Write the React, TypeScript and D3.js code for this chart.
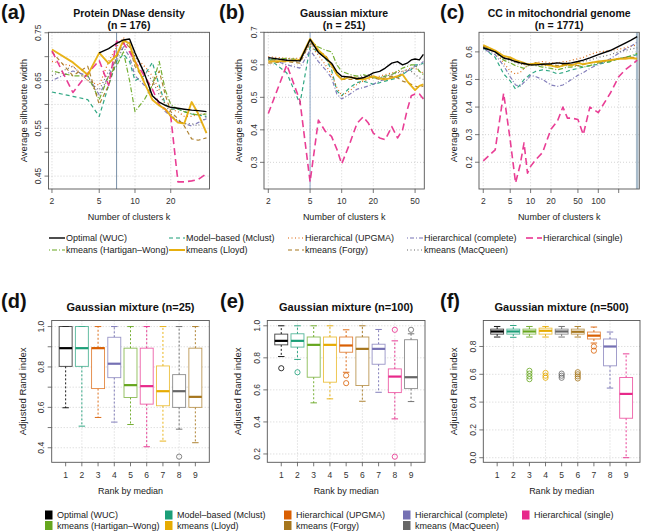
import React from 'react';
import * as d3 from 'd3';

// ---------------- data ----------------
const methodKeys = ['optimal', 'mclust', 'upgma', 'complete', 'single', 'hw', 'lloyd', 'forgy', 'macqueen'];
const methodNames = ['Optimal (WUC)', 'Model–based (Mclust)', 'Hierarchical (UPGMA)', 'Hierarchical (complete)', 'Hierarchical (single)', 'kmeans (Hartigan–Wong)', 'kmeans (Lloyd)', 'kmeans (Forgy)', 'kmeans (MacQueen)'];
const methodColors = ['#000000', '#1b9e77', '#d95f02', '#7570b3', '#e7298a', '#66a61e', '#e6ab02', '#a6761d', '#666666'];

// Panel (a) Protein DNase density
const kA = [2, 3, 4, 5, 6, 7, 8, 9, 10, 12, 14, 16, 18, 20, 23, 26, 30, 34, 40];
const aOptimal = [null, null, null, 0.708, 0.717, 0.728, 0.735, 0.737, 0.708, 0.665, 0.618, 0.605, 0.598, 0.594, 0.592, 0.590, 0.588, 0.587, 0.585];
const aMclust = [0.626, 0.617, 0.610, 0.575, 0.640, 0.690, 0.705, 0.690, 0.650, 0.660, 0.688, 0.640, 0.600, 0.590, 0.590, 0.585, 0.580, 0.578, 0.575];
const aUpgma = [0.690, 0.680, 0.650, 0.640, 0.690, 0.720, 0.740, 0.720, 0.700, 0.680, 0.660, 0.630, 0.600, 0.590, 0.585, 0.575, 0.575, 0.580, 0.580];
const aComplete = [0.650, 0.670, 0.660, 0.620, 0.660, 0.700, 0.720, 0.700, 0.660, 0.640, 0.620, 0.600, 0.585, 0.575, 0.565, 0.560, 0.555, 0.562, 0.570];
const aSingle = [0.712, 0.625, 0.665, 0.692, 0.640, 0.732, 0.728, 0.710, 0.690, 0.660, 0.632, 0.600, 0.590, 0.575, 0.438, 0.438, 0.440, 0.443, 0.455];
const aHw = [0.670, 0.660, 0.660, 0.610, 0.660, 0.680, 0.710, 0.650, 0.585, 0.610, 0.640, 0.690, 0.630, 0.600, 0.590, 0.585, 0.580, 0.578, 0.580];
const aLloyd = [0.715, 0.688, 0.662, 0.708, 0.686, 0.703, 0.734, 0.728, 0.690, 0.645, 0.610, 0.598, 0.590, 0.576, 0.562, 0.560, 0.605, 0.581, 0.540];
const aForgy = [0.710, 0.660, 0.680, 0.600, 0.640, 0.700, 0.730, 0.720, 0.680, 0.650, 0.640, 0.670, 0.620, 0.585, 0.570, 0.555, 0.528, 0.525, 0.530];
const aMacqueen = [0.660, 0.680, 0.650, 0.630, 0.670, 0.690, 0.720, 0.730, 0.700, 0.670, 0.650, 0.620, 0.600, 0.580, 0.565, 0.560, 0.560, 0.555, 0.575];

// Panel (b) Gaussian mixture
const kB = [2, 3, 4, 5, 6, 7, 8, 9, 10, 12, 14, 16, 18, 20, 23, 26, 30, 34, 38, 42, 46, 50, 55, 60];
const bOptimal = [0.622, 0.614, 0.612, 0.678, 0.638, 0.620, 0.605, 0.578, 0.565, 0.562, 0.557, 0.560, 0.567, 0.575, 0.580, 0.590, 0.605, 0.610, 0.600, 0.605, 0.615, 0.618, 0.615, 0.632];
const bMclust = [0.620, 0.575, 0.480, 0.655, 0.640, 0.620, 0.585, 0.520, 0.505, 0.530, 0.545, 0.550, 0.545, 0.540, 0.545, 0.550, 0.555, 0.560, 0.570, 0.580, 0.585, 0.600, 0.600, 0.605];
const bUpgma = [0.625, 0.620, 0.620, 0.660, 0.630, 0.600, 0.570, 0.530, 0.505, 0.520, 0.540, 0.550, 0.555, 0.560, 0.565, 0.570, 0.575, 0.580, 0.580, 0.585, 0.590, 0.590, 0.580, 0.575];
const bComplete = [0.620, 0.600, 0.590, 0.645, 0.610, 0.585, 0.560, 0.510, 0.495, 0.510, 0.525, 0.530, 0.535, 0.540, 0.550, 0.555, 0.560, 0.565, 0.575, 0.580, 0.590, 0.595, 0.600, 0.610];
const bSingle = [0.450, 0.600, 0.490, 0.240, 0.430, 0.395, 0.380, 0.340, 0.295, 0.360, 0.420, 0.440, 0.420, 0.390, 0.375, 0.370, 0.410, 0.375, 0.400, 0.460, 0.505, 0.510, 0.510, 0.495];
const bHw = [0.615, 0.620, 0.615, 0.675, 0.655, 0.645, 0.640, 0.600, 0.580, 0.570, 0.565, 0.570, 0.565, 0.560, 0.560, 0.565, 0.570, 0.580, 0.590, 0.595, 0.600, 0.600, 0.580, 0.570];
const bLloyd = [0.610, 0.612, 0.615, 0.680, 0.645, 0.625, 0.600, 0.570, 0.555, 0.562, 0.558, 0.555, 0.560, 0.565, 0.558, 0.555, 0.560, 0.565, 0.570, 0.550, 0.535, 0.522, 0.535, 0.540];
const bForgy = [0.605, 0.610, 0.605, 0.670, 0.640, 0.630, 0.600, 0.570, 0.555, 0.555, 0.555, 0.560, 0.565, 0.560, 0.555, 0.560, 0.565, 0.560, 0.550, 0.545, 0.540, 0.535, 0.530, 0.535];
const bMacqueen = [0.615, 0.615, 0.610, 0.665, 0.640, 0.620, 0.595, 0.570, 0.560, 0.565, 0.560, 0.565, 0.570, 0.565, 0.560, 0.565, 0.570, 0.575, 0.580, 0.585, 0.580, 0.570, 0.560, 0.555];

// Panel (c) CC in mitochondrial genome
const kC = [2, 3, 4, 5, 6, 7, 8, 9, 10, 12, 15, 20, 25, 30, 35, 40, 50, 60, 75, 100, 150, 200, 250, 300, 375];
const cOptimal = [0.615, 0.600, 0.578, 0.572, 0.565, 0.560, 0.558, 0.555, 0.553, 0.553, 0.555, 0.557, 0.560, 0.558, 0.558, 0.560, 0.565, 0.570, 0.578, 0.590, 0.605, 0.620, 0.632, 0.642, 0.655];
const cMclust = [0.615, 0.580, 0.520, 0.495, 0.465, 0.480, 0.500, 0.510, 0.520, 0.530, 0.535, 0.530, 0.520, 0.525, 0.530, 0.535, 0.540, 0.545, 0.550, 0.555, 0.565, 0.575, 0.580, 0.585, 0.590];
const cUpgma = [0.620, 0.600, 0.560, 0.530, 0.520, 0.525, 0.540, 0.550, 0.555, 0.560, 0.565, 0.560, 0.560, 0.565, 0.565, 0.570, 0.575, 0.580, 0.590, 0.600, 0.605, 0.610, 0.615, 0.620, 0.625];
const cComplete = [0.610, 0.590, 0.550, 0.510, 0.480, 0.475, 0.490, 0.500, 0.515, 0.510, 0.500, 0.480, 0.475, 0.480, 0.490, 0.500, 0.515, 0.525, 0.540, 0.555, 0.575, 0.595, 0.610, 0.620, 0.635];
const cSingle = [0.205, 0.245, 0.450, 0.280, 0.125, 0.190, 0.270, 0.160, 0.185, 0.210, 0.235, 0.320, 0.350, 0.400, 0.360, 0.360, 0.355, 0.300, 0.400, 0.380, 0.450, 0.510, 0.535, 0.550, 0.570];
const cHw = [0.620, 0.600, 0.570, 0.560, 0.550, 0.545, 0.540, 0.550, 0.555, 0.550, 0.545, 0.540, 0.535, 0.540, 0.545, 0.545, 0.550, 0.545, 0.550, 0.560, 0.565, 0.575, 0.580, 0.585, 0.595];
const cLloyd = [0.625, 0.605, 0.585, 0.580, 0.570, 0.565, 0.560, 0.555, 0.555, 0.558, 0.555, 0.550, 0.545, 0.550, 0.555, 0.550, 0.560, 0.555, 0.560, 0.565, 0.570, 0.575, 0.575, 0.578, 0.575];
const cForgy = [0.620, 0.605, 0.580, 0.575, 0.565, 0.560, 0.555, 0.550, 0.555, 0.560, 0.555, 0.555, 0.550, 0.555, 0.550, 0.555, 0.550, 0.555, 0.560, 0.565, 0.570, 0.575, 0.580, 0.580, 0.580];
const cMacqueen = [0.615, 0.600, 0.575, 0.570, 0.560, 0.555, 0.555, 0.550, 0.550, 0.555, 0.550, 0.550, 0.545, 0.550, 0.550, 0.555, 0.560, 0.565, 0.570, 0.580, 0.590, 0.600, 0.605, 0.610, 0.615];

// Boxplots: rank -> method index, and five-number summaries
const rankPos = [1, 2, 3, 4, 5, 6, 7, 8, 9];

const dMethods = [0, 1, 2, 3, 5, 4, 6, 8, 7];
const dLow = [0.598, 0.507, 0.550, 0.527, 0.515, 0.405, 0.433, 0.492, 0.425];
const dQ1 = [0.803, 0.803, 0.693, 0.747, 0.649, 0.616, 0.608, 0.600, 0.600];
const dMed = [0.893, 0.893, 0.893, 0.816, 0.710, 0.705, 0.680, 0.680, 0.652];
const dQ3 = [1.000, 1.000, 0.895, 0.947, 0.893, 0.893, 0.805, 0.762, 0.893];
const dHigh = [1, 1, 1, 1, 1, 1, 1, 1, 1];
const dOut = [[], [], [], [], [], [], [], [0.356], []];

const eMethods = [0, 1, 5, 6, 2, 7, 3, 4, 8];
const eLow = [0.808, 0.790, 0.519, 0.544, 0.710, 0.529, 0.585, 0.419, 0.527];
const eQ1 = [0.881, 0.867, 0.679, 0.648, 0.835, 0.627, 0.760, 0.583, 0.608];
const eMed = [0.906, 0.906, 0.881, 0.881, 0.877, 0.856, 0.856, 0.683, 0.679];
const eQ3 = [0.948, 0.950, 0.930, 0.930, 0.930, 0.930, 0.885, 0.731, 0.913];
const eHigh = [1, 1, 1, 1, 0.975, 1, 0.977, 0.906, 0.950];
const eOut = [[0.735], [0.710], [], [], [0.690, 0.642], [], [], [0.975, 0.183], [0.975]];

const fMethods = [0, 1, 5, 6, 8, 7, 2, 3, 4];
const fLow = [0.868, 0.866, 0.868, 0.868, 0.868, 0.868, 0.825, 0.501, 0.000];
const fQ1 = [0.889, 0.889, 0.889, 0.889, 0.889, 0.889, 0.854, 0.661, 0.284];
const fMed = [0.908, 0.908, 0.908, 0.913, 0.908, 0.906, 0.878, 0.800, 0.459];
const fQ3 = [0.925, 0.925, 0.925, 0.932, 0.925, 0.925, 0.904, 0.854, 0.577];
const fHigh = [0.944, 0.951, 0.944, 0.944, 0.944, 0.944, 0.940, 0.904, 0.747];
const fOut = [[], [], [0.625, 0.605, 0.585, 0.565], [0.610, 0.590, 0.575], [0.605, 0.590, 0.575], [0.615, 0.600, 0.585, 0.570], [0.800, 0.770], [], []];

// ---------------- styles ----------------
const FONT = "'Liberation Sans', Arial, Helvetica, sans-serif";
const lineStyle: Record<string, { dash: string | null; width: number }> = {
  optimal: { dash: null, width: 1.4 },
  mclust: { dash: '4,3', width: 1.2 },
  upgma: { dash: '1,2.5', width: 1.2 },
  complete: { dash: '1,2,4,2', width: 1.2 },
  single: { dash: '7,4', width: 1.6 },
  hw: { dash: '1,2,5,2', width: 1.2 },
  lloyd: { dash: null, width: 1.9 },
  forgy: { dash: '4,3', width: 1.2 },
  macqueen: { dash: '1,2.5', width: 1.2 },
};
const drawOrder = ['mclust', 'upgma', 'complete', 'hw', 'forgy', 'macqueen', 'single', 'lloyd', 'optimal'];
const GRID = '#c8c8c8';
const AXIS = '#555';

type LineSeries = Record<string, (number | null)[]>;

function Letter({ x, y, t }: { x: number; y: number; t: string }) {
  return (
    <text x={x} y={y} fontSize={20} fontWeight="bold" fontFamily={FONT} fill="#111">
      {t}
    </text>
  );
}

function LinePanel(p: {
  x0: number; x1: number; y0: number; y1: number;
  xDom: [number, number]; yDom: [number, number];
  ks: number[]; series: LineSeries;
  xTicks: number[]; xLabeled: number[];
  yTicks: number[]; yLabeled: number[]; yFmt: (v: number) => string;
  vk: number; vColor: string; vWidth: number;
  letter: string; letterX: number; title: string; sub: string;
}) {
  const x = d3.scaleLog().domain(p.xDom).range([p.x0, p.x1]);
  const y = d3.scaleLinear().domain(p.yDom).range([p.y1, p.y0]);
  const cx = (p.x0 + p.x1) / 2;
  const cy = (p.y0 + p.y1) / 2;
  const line = d3
    .line<[number, number | null]>()
    .defined((d) => d[1] != null)
    .x((d) => x(d[0]))
    .y((d) => y(d[1] as number));
  const clipId = 'clip' + p.letter.replace(/[()]/g, '');
  return (
    <g fontFamily={FONT}>
      <defs>
        <clipPath id={clipId}>
          <rect x={p.x0} y={p.y0} width={p.x1 - p.x0} height={p.y1 - p.y0} />
        </clipPath>
      </defs>
      {p.yTicks.map((t) => (
        <line key={'gy' + t} x1={p.x0} x2={p.x1} y1={y(t)} y2={y(t)} stroke={GRID} strokeDasharray="1,2" strokeWidth={0.8} />
      ))}
      {p.xTicks.map((t) => (
        <line key={'gx' + t} x1={x(t)} x2={x(t)} y1={p.y0} y2={p.y1} stroke={GRID} strokeDasharray="1,2" strokeWidth={0.8} />
      ))}
      <line x1={x(p.vk)} x2={x(p.vk)} y1={p.y0} y2={p.y1} stroke={p.vColor} strokeWidth={p.vWidth} />
      <g clipPath={`url(#${clipId})`}>
        {drawOrder.map((key) => {
          const idx = methodKeys.indexOf(key);
          const vals = p.series[key];
          const pts = p.ks.map((k, i) => [k, vals[i]] as [number, number | null]);
          const st = lineStyle[key];
          return (
            <path
              key={key}
              d={line(pts) || ''}
              fill="none"
              stroke={methodColors[idx]}
              strokeWidth={st.width}
              strokeDasharray={st.dash || undefined}
              strokeLinejoin="round"
              opacity={key === 'optimal' ? 1 : 0.9}
            />
          );
        })}
      </g>
      <rect x={p.x0} y={p.y0} width={p.x1 - p.x0} height={p.y1 - p.y0} fill="none" stroke={AXIS} strokeWidth={0.9} />
      {p.yTicks.map((t) => (
        <line key={'ty' + t} x1={p.x0 - 4} x2={p.x0} y1={y(t)} y2={y(t)} stroke={AXIS} strokeWidth={0.8} />
      ))}
      {p.yLabeled.map((t) => (
        <text key={'ly' + t} transform={`translate(${p.x0 - 7.5},${y(t)}) rotate(-90)`} textAnchor="middle" fontSize={8.5} fill="#333">
          {p.yFmt(t)}
        </text>
      ))}
      {p.xTicks.map((t) => (
        <line key={'tx' + t} x1={x(t)} x2={x(t)} y1={p.y1} y2={p.y1 + 4} stroke={AXIS} strokeWidth={0.8} />
      ))}
      {p.xLabeled.map((t) => (
        <text key={'lx' + t} x={x(t)} y={p.y1 + 15} textAnchor="middle" fontSize={8.5} fill="#333">
          {String(t)}
        </text>
      ))}
      <text x={cx} y={p.y1 + 31} textAnchor="middle" fontSize={9} fill="#222">Number of clusters k</text>
      <text transform={`translate(${p.x0 - 22},${cy}) rotate(-90)`} textAnchor="middle" fontSize={9.5} fill="#222">
        Average silhouette width
      </text>
      <text x={cx} y={16.5} textAnchor="middle" fontSize={10.5} fontWeight="bold" fill="#111">{p.title}</text>
      <text x={cx} y={28.5} textAnchor="middle" fontSize={10.5} fontWeight="bold" fill="#111">{p.sub}</text>
      <Letter x={p.letterX} y={19} t={p.letter} />
    </g>
  );
}

function BoxPanel(p: {
  x0: number; x1: number; y0: number; y1: number; yDom: [number, number];
  methods: number[]; low: number[]; q1: number[]; med: number[]; q3: number[]; high: number[]; out: number[][];
  yTicks: number[]; yLabeled: number[];
  letter: string; letterX: number; title: string;
}) {
  const x = d3.scaleLinear().domain([0.14, 9.86]).range([p.x0, p.x1]);
  const y = d3.scaleLinear().domain(p.yDom).range([p.y1, p.y0]);
  const bw = (x(1) - x(0)) * 0.8;
  const cw = bw / 2;
  const cx = (p.x0 + p.x1) / 2;
  const cy = (p.y0 + p.y1) / 2;
  const gridX = [2, 4, 6, 8];
  return (
    <g fontFamily={FONT}>
      {p.yTicks.map((t) => (
        <line key={'gy' + t} x1={p.x0} x2={p.x1} y1={y(t)} y2={y(t)} stroke={GRID} strokeDasharray="1,2" strokeWidth={0.8} />
      ))}
      {gridX.map((t) => (
        <line key={'gx' + t} x1={x(t)} x2={x(t)} y1={p.y0} y2={p.y1} stroke={GRID} strokeDasharray="1,2" strokeWidth={0.8} />
      ))}
      {rankPos.map((r, i) => {
        const col = methodColors[p.methods[i]];
        const xc = x(r);
        return (
          <g key={'b' + r}>
            <line x1={xc} x2={xc} y1={y(p.q3[i])} y2={y(p.high[i])} stroke={col} strokeDasharray="2,2" strokeWidth={0.9} />
            <line x1={xc} x2={xc} y1={y(p.q1[i])} y2={y(p.low[i])} stroke={col} strokeDasharray="2,2" strokeWidth={0.9} />
            <line x1={xc - cw / 2} x2={xc + cw / 2} y1={y(p.high[i])} y2={y(p.high[i])} stroke={col} strokeWidth={0.9} />
            <line x1={xc - cw / 2} x2={xc + cw / 2} y1={y(p.low[i])} y2={y(p.low[i])} stroke={col} strokeWidth={0.9} />
            <rect x={xc - bw / 2} y={y(p.q3[i])} width={bw} height={Math.max(0.5, y(p.q1[i]) - y(p.q3[i]))} fill="white" stroke={col} strokeOpacity={0.75} strokeWidth={0.9} />
            <line x1={xc - bw / 2} x2={xc + bw / 2} y1={y(p.med[i])} y2={y(p.med[i])} stroke={col} strokeWidth={2.2} />
            {p.out[i].map((o, j) => (
              <circle key={j} cx={xc} cy={y(o)} r={2.6} fill="none" stroke={col} strokeWidth={0.8} />
            ))}
          </g>
        );
      })}
      <rect x={p.x0} y={p.y0} width={p.x1 - p.x0} height={p.y1 - p.y0} fill="none" stroke={AXIS} strokeWidth={0.9} />
      {p.yTicks.map((t) => (
        <line key={'ty' + t} x1={p.x0 - 4} x2={p.x0} y1={y(t)} y2={y(t)} stroke={AXIS} strokeWidth={0.8} />
      ))}
      {p.yLabeled.map((t) => (
        <text key={'ly' + t} transform={`translate(${p.x0 - 7.5},${y(t)}) rotate(-90)`} textAnchor="middle" fontSize={8.5} fill="#333">
          {t.toFixed(1)}
        </text>
      ))}
      {rankPos.map((r) => (
        <g key={'xt' + r}>
          <line x1={x(r)} x2={x(r)} y1={p.y1} y2={p.y1 + 4} stroke={AXIS} strokeWidth={0.8} />
          <text x={x(r)} y={p.y1 + 15.5} textAnchor="middle" fontSize={8.5} fill="#333">{String(r)}</text>
        </g>
      ))}
      <text x={cx} y={p.y1 + 32} textAnchor="middle" fontSize={9} fill="#222">Rank by median</text>
      <text transform={`translate(${p.x0 - 26},${cy}) rotate(-90)`} textAnchor="middle" fontSize={9.5} fill="#222">
        Adjusted Rand index
      </text>
      <text x={cx} y={311} textAnchor="middle" fontSize={11} fontWeight="bold" fill="#111">{p.title}</text>
      <Letter x={p.letterX} y={308} t={p.letter} />
    </g>
  );
}

const legendColsX = [49, 169, 288, 407, 526];

function TopLegend() {
  return (
    <g fontFamily={FONT}>
      {methodKeys.map((key, i) => {
        const col = i < 5 ? i : i - 5;
        const row = i < 5 ? 0 : 1;
        const lx = legendColsX[col];
        const ly = row === 0 ? 238 : 250;
        const st = lineStyle[key];
        return (
          <g key={key}>
            <line x1={lx} x2={lx + 16} y1={ly} y2={ly} stroke={methodColors[i]} strokeWidth={st.width} strokeDasharray={st.dash || undefined} />
            <text x={lx + 17} y={ly + 3.2} fontSize={9} fill="#222">{methodNames[i]}</text>
          </g>
        );
      })}
    </g>
  );
}

function BottomLegend() {
  return (
    <g fontFamily={FONT}>
      {methodKeys.map((key, i) => {
        const col = i < 5 ? i : i - 5;
        const row = i < 5 ? 0 : 1;
        const lx = legendColsX[col] - 4;
        const ly = row === 0 ? 515 : 525.5;
        return (
          <g key={key}>
            <rect x={lx} y={ly - 4.5} width={7.5} height={9} fill={methodColors[i]} />
            <text x={lx + 12} y={ly + 3.2} fontSize={9} fill="#222">{methodNames[i]}</text>
          </g>
        );
      })}
    </g>
  );
}

const seriesA: LineSeries = { optimal: aOptimal, mclust: aMclust, upgma: aUpgma, complete: aComplete, single: aSingle, hw: aHw, lloyd: aLloyd, forgy: aForgy, macqueen: aMacqueen };
const seriesB: LineSeries = { optimal: bOptimal, mclust: bMclust, upgma: bUpgma, complete: bComplete, single: bSingle, hw: bHw, lloyd: bLloyd, forgy: bForgy, macqueen: bMacqueen };
const seriesC: LineSeries = { optimal: cOptimal, mclust: cMclust, upgma: cUpgma, complete: cComplete, single: cSingle, hw: cHw, lloyd: cLloyd, forgy: cForgy, macqueen: cMacqueen };

const range = (a: number, b: number, s: number) => d3.range(Math.round((b - a) / s) + 1).map((i) => +(a + i * s).toFixed(3));

export default function App() {
  return (
    <svg width={645} height={531} style={{ position: 'absolute', left: 0, top: 0, background: 'white' }}>
      <rect width={645} height={531} fill="white" />
      <LinePanel
        x0={48.5} x1={209.5} y0={32.3} y1={189}
        xDom={[1.87, 42.4]} yDom={[0.423, 0.751]}
        ks={kA} series={seriesA}
        xTicks={[2, 5, 10, 20]} xLabeled={[2, 5, 10, 20]}
        yTicks={range(0.45, 0.75, 0.05)} yLabeled={[0.45, 0.55, 0.65, 0.75]} yFmt={(v) => v.toFixed(2)}
        vk={7} vColor="#7990a8" vWidth={1}
        letter="(a)" letterX={1} title="Protein DNase density" sub="(n = 176)"
      />
      <LinePanel
        x0={264} x1={424.3} y0={32.3} y1={189}
        xDom={[1.82, 61.2]} yDom={[0.218, 0.7]}
        ks={kB} series={seriesB}
        xTicks={[2, 5, 10, 20, 50]} xLabeled={[2, 5, 10, 20, 50]}
        yTicks={range(0.3, 0.7, 0.1)} yLabeled={range(0.3, 0.7, 0.1)} yFmt={(v) => v.toFixed(1)}
        vk={5} vColor="#8ea6c6" vWidth={1}
        letter="(b)" letterX={219} title="Gaussian mixture" sub="(n = 251)"
      />
      <LinePanel
        x0={479} x1={639.3} y0={32.3} y1={189}
        xDom={[1.73, 403]} yDom={[0.103, 0.671]}
        ks={kC} series={seriesC}
        xTicks={[2, 5, 10, 20, 50, 100, 200]} xLabeled={[2, 5, 10, 20, 50, 100]}
        yTicks={range(0.2, 0.6, 0.1)} yLabeled={range(0.2, 0.6, 0.1)} yFmt={(v) => v.toFixed(1)}
        vk={375} vColor="#a9bccb" vWidth={2.5}
        letter="(c)" letterX={440} title="CC in mitochondrial genome" sub="(n = 1771)"
      />
      <TopLegend />
      <BoxPanel
        x0={51.7} x1={209.3} y0={320.5} y1={462.3} yDom={[0.328, 1.03]}
        methods={dMethods} low={dLow} q1={dQ1} med={dMed} q3={dQ3} high={dHigh} out={dOut}
        yTicks={range(0.4, 1.0, 0.1)} yLabeled={[0.4, 0.6, 0.8, 1.0]}
        letter="(d)" letterX={1} title="Gaussian mixture (n=25)"
      />
      <BoxPanel
        x0={267.3} x1={425} y0={320.5} y1={462.3} yDom={[0.148, 1.033]}
        methods={eMethods} low={eLow} q1={eQ1} med={eMed} q3={eQ3} high={eHigh} out={eOut}
        yTicks={range(0.2, 1.0, 0.2)} yLabeled={range(0.2, 1.0, 0.2)}
        letter="(e)" letterX={220} title="Gaussian mixture (n=100)"
      />
      <BoxPanel
        x0={483.3} x1={640} y0={320.5} y1={462.3} yDom={[-0.033, 0.987]}
        methods={fMethods} low={fLow} q1={fQ1} med={fMed} q3={fQ3} high={fHigh} out={fOut}
        yTicks={range(0, 0.8, 0.2)} yLabeled={range(0, 0.8, 0.2)}
        letter="(f)" letterX={440} title="Gaussian mixture (n=500)"
      />
      <BottomLegend />
    </svg>
  );
}
